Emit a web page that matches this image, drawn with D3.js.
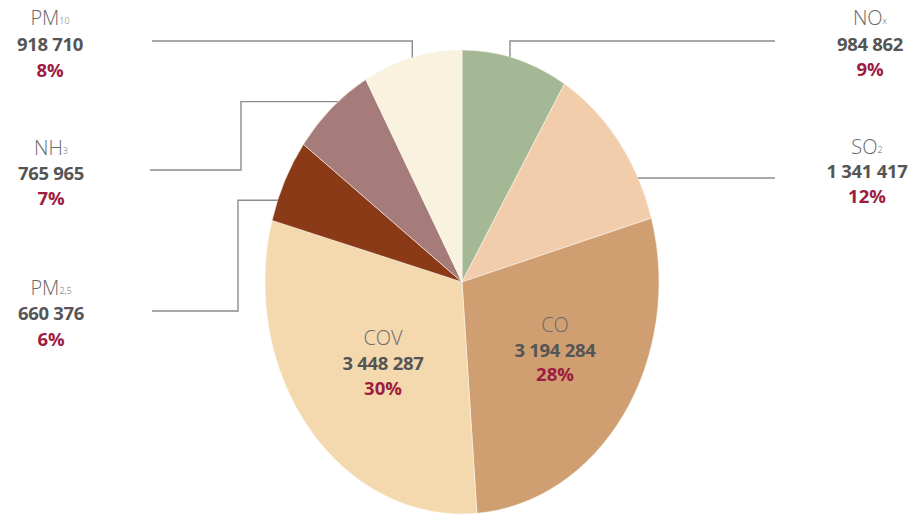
<!DOCTYPE html>
<html>
<head>
<meta charset="utf-8">
<script src="https://cdn.jsdelivr.net/npm/d3@7"></script>
<style>
  html, body { margin: 0; padding: 0; background: #ffffff; }
  svg { display: block; font-family: "Open Sans", "Noto Sans", sans-serif; }
</style>
</head>
<body>
<svg id="chart" width="914" height="516"></svg>
<script>
// Pollutant emissions (clockwise from 12 o'clock)
const pollutants = ["NOx", "SO2", "CO", "COV", "PM2.5", "NH3", "PM10"];
const names      = [["NO", "x"], ["SO", "2"], ["CO", ""], ["COV", ""], ["PM", "2,5"], ["NH", "3"], ["PM", "10"]];
const emissions  = [984862, 1341417, 3194284, 3448287, 660376, 765965, 918710];
const percents   = ["9%", "12%", "28%", "30%", "6%", "7%", "8%"];
const colors     = ["#a4b896", "#f2cdab", "#cf9f71", "#f4d9ae", "#8b3a17", "#a57c79", "#f8f2df"];

const fmt = d3.formatLocale({ decimal: ",", thousands: " ", grouping: [3], currency: ["", ""] }).format(",d");

const svg = d3.select("#chart");
const cx = 462, cy = 282, rx = 197, ry = 232;

const pie = d3.pie().sort(null).value(d => d)(emissions);
const arc = d3.arc().innerRadius(0).outerRadius(ry);

// Elliptical pie: circular arcs stretched horizontally
const g = svg.append("g").attr("transform", `translate(${cx},${cy}) scale(${rx / ry},1)`);
g.selectAll("path").data(pie).join("path")
  .attr("d", arc)
  .attr("fill", (d, i) => colors[i])
  .attr("stroke", "#fbf8ef")
  .attr("stroke-width", 0.6);

// point on the ellipse edge at a given angle (radians, clockwise from top)
const edge = a => [cx + rx * Math.sin(a), cy - ry * Math.cos(a)];

// Leader lines for the small slices: index, fraction along the slice, path corners, label spot
const callouts = [
  { i: 0, t: 0.45, pts: e => [e, [e[0], 41], [775, 41]],                 lx: 870, ly: [17, 43, 68] },
  { i: 1, t: 0.75, pts: e => [e, [775, e[1]]],                            lx: 867, ly: [146, 170, 195] },
  { i: 6, t: 0.5,  pts: e => [e, [e[0], 41], [152, 41]],                  lx: 50,  ly: [17, 43, 69] },
  { i: 5, t: 0.6,  pts: e => [e, [241, e[1]], [241, 170], [150, 170]],    lx: 51,  ly: [147, 172, 197] },
  { i: 4, t: 0.25, pts: e => [e, [238, e[1]], [238, 311], [152, 311]],    lx: 51,  ly: [287, 312, 338] }
];

const line = d3.line();
callouts.forEach(c => {
  const s = pie[c.i];
  const e = edge(s.startAngle + (s.endAngle - s.startAngle) * c.t);
  svg.append("path")
    .attr("d", line(c.pts(e)))
    .attr("fill", "none")
    .attr("stroke", "#8c8c8c")
    .attr("stroke-width", 1.4);
});

function drawLabel(i, x, ys) {
  const grp = svg.append("g");
  const name = grp.append("text")
    .attr("x", x).attr("y", ys[0])
    .attr("text-anchor", "middle").attr("dominant-baseline", "central")
    .attr("font-size", 20).attr("font-weight", 300).attr("fill", "#6a6a6a");
  name.append("tspan").text(names[i][0]);
  if (names[i][1]) {
    name.append("tspan").attr("font-size", 9).attr("dy", 3).text(names[i][1]);
  }
  grp.append("text")
    .attr("x", x).attr("y", ys[1])
    .attr("text-anchor", "middle").attr("dominant-baseline", "central")
    .attr("font-size", 18.5).attr("font-weight", 700).attr("fill", "#555555")
    .attr("letter-spacing", -0.3)
    .text(fmt(emissions[i]));
  grp.append("text")
    .attr("x", x).attr("y", ys[2])
    .attr("text-anchor", "middle").attr("dominant-baseline", "central")
    .attr("font-size", 18.5).attr("font-weight", 700).attr("fill", "#9e1c42")
    .text(percents[i]);
}

callouts.forEach(c => drawLabel(c.i, c.lx, c.ly));

// Large slices carry their labels inside
drawLabel(3, 383, [337, 362, 387]);
drawLabel(2, 555, [324, 349, 373]);
</script>
</body>
</html>
